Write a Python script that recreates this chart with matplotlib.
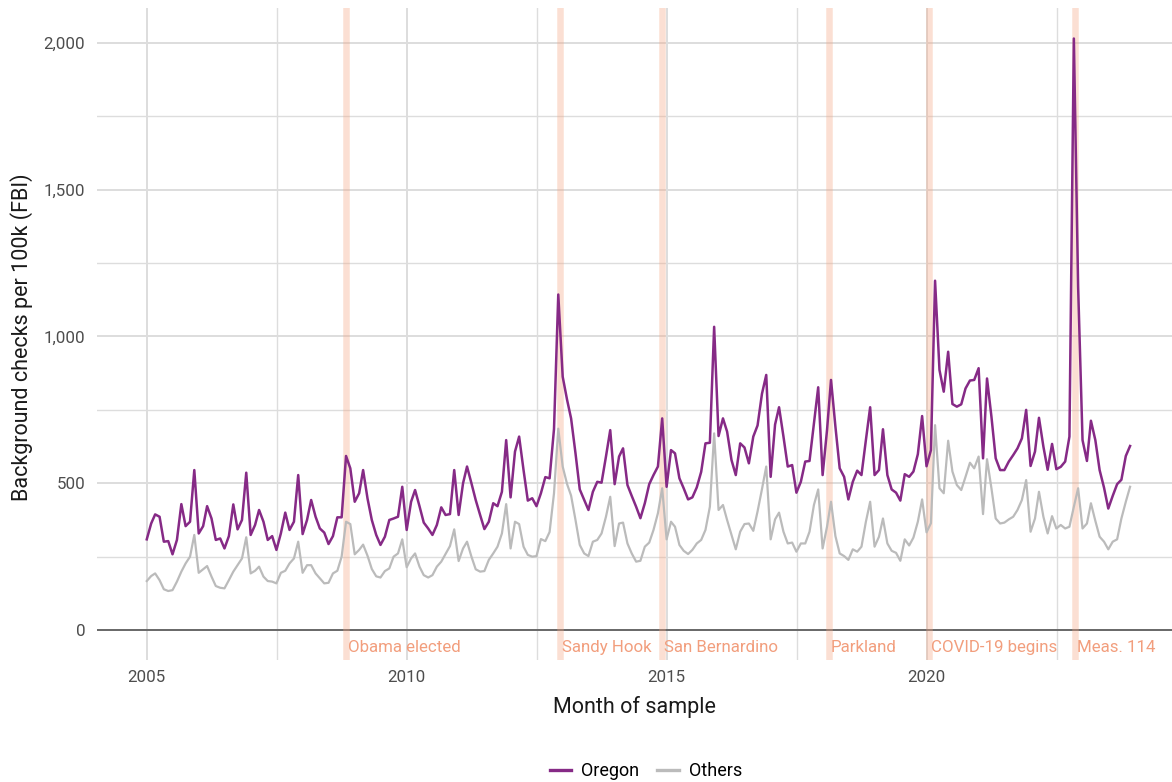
import numpy as np
import pandas as pd
import matplotlib
matplotlib.use("Agg")
import matplotlib.pyplot as plt

plt.rcParams['font.family'] = ['Roboto', 'DejaVu Sans']

# ---------------- data ----------------
months = pd.date_range('2005-01-01', periods=228, freq='MS')

oregon = [
    309, 363, 394, 386, 301, 303, 258, 307, 429, 354, 369, 545,
    329, 354, 422, 380, 307, 312, 278, 320, 428, 343, 375, 536,
    324, 358, 409, 369, 307, 320, 273, 329, 400, 341, 369, 528,
    327, 375, 443, 386, 346, 332, 293, 320, 384, 384, 593, 551,
    437, 466, 545, 448, 375, 324, 290, 318, 375, 380, 386, 488,
    341, 437, 477, 422, 366, 346, 324, 358, 418, 392, 395, 545,
    392, 500, 557, 500, 443, 392, 344, 369, 432, 422, 471, 647,
    452, 608, 659, 545, 441, 449, 422, 466, 521, 517, 685, 1143,
    863, 784, 721, 602, 479, 443, 409, 471, 505, 502, 591, 681,
    497, 591, 619, 494, 457, 420, 381, 432, 497, 528, 557, 721,
    488, 613, 602, 517, 483, 445, 452, 486, 539, 636, 638, 1033,
    661, 721, 676, 579, 528, 636, 622, 568, 659, 697, 805, 869,
    522, 700, 759, 659, 557, 562, 468, 505, 574, 576, 704, 827,
    528, 681, 852, 693, 551, 522, 445, 505, 543, 528, 647, 759,
    528, 545, 684, 528, 479, 468, 441, 531, 522, 540, 599, 729,
    558, 613, 1190, 886, 812, 948, 770, 761, 769, 823, 850, 852,
    892, 585, 857, 727, 585, 545, 545, 574, 596, 619, 653, 750,
    559, 608, 723, 625, 546, 634, 548, 556, 574, 659, 2015, 1170,
    647, 576, 713, 647, 545, 485, 414, 457, 497, 512, 593, 627,
]

others = [
    167, 184, 193, 170, 139, 133, 136, 165, 199, 227, 250, 324,
    195, 207, 218, 182, 150, 144, 142, 170, 199, 221, 244, 316,
    193, 202, 216, 182, 167, 165, 159, 195, 202, 227, 244, 301,
    195, 221, 221, 193, 176, 159, 161, 193, 202, 250, 369, 361,
    258, 273, 291, 253, 208, 183, 179, 201, 210, 250, 261, 309,
    214, 244, 261, 216, 187, 179, 187, 216, 233, 259, 286, 343,
    235, 278, 301, 250, 207, 199, 201, 239, 261, 284, 329, 429,
    278, 369, 361, 284, 256, 250, 252, 310, 303, 334, 466, 686,
    557, 497, 458, 375, 290, 261, 252, 301, 307, 329, 386, 454,
    286, 363, 366, 295, 261, 233, 236, 284, 298, 341, 398, 483,
    309, 369, 352, 290, 270, 259, 273, 295, 307, 341, 420, 670,
    409, 426, 375, 324, 275, 335, 361, 363, 338, 404, 480, 557,
    309, 377, 400, 335, 295, 298, 267, 295, 295, 335, 426, 479,
    278, 352, 437, 320, 261, 252, 239, 275, 267, 284, 369, 437,
    284, 318, 380, 295, 270, 263, 236, 309, 288, 315, 369, 445,
    333, 364, 698, 483, 466, 645, 540, 494, 477, 522, 570, 551,
    591, 395, 582, 483, 380, 363, 366, 377, 386, 409, 443, 511,
    335, 380, 471, 386, 329, 388, 346, 358, 346, 352, 420, 483,
    346, 363, 432, 372, 318, 301, 275, 301, 309, 380, 437, 488,
]

event_dates = ['2008-11-04', '2012-12-14', '2014-12-02',
               '2018-02-14', '2020-01-20', '2022-11-08']
event_labels = ['Obama elected', 'Sandy Hook', 'San Bernardino',
                'Parkland', 'COVID-19 begins', 'Meas. 114']

x_major = [2005, 2010, 2015, 2020]
x_minor = [2007.5, 2012.5, 2017.5, 2022.5]
y_major = [0, 500, 1000, 1500, 2000]
y_minor = [250, 750, 1250, 1750]
y_labels = ['0', '500', '1,000', '1,500', '2,000']

series_names = ['Oregon', 'Others']
series_colors = ['#862A86', '#BBBBBB']

# ---------------- figure ----------------
W, H = 1172, 782
fig = plt.figure(figsize=(W / 100, H / 100), dpi=100)
ax = fig.add_axes([97 / W, 1 - 660 / H, (W - 97) / W, (660 - 8) / H])


def year_to_date(y):
    yr = int(np.floor(y))
    frac = y - yr
    start = pd.Timestamp(f'{yr}-01-01')
    end = pd.Timestamp(f'{yr + 1}-01-01')
    return start + (end - start) * frac


ax.set_xlim(year_to_date(2004.045), year_to_date(2024.72))
ax.set_ylim(-102, 2119)

grid_c = '#DDDDDD'
for v in y_major:
    ax.axhline(v, color=grid_c, lw=1.4, zorder=0)
for v in y_minor:
    ax.axhline(v, color=grid_c, lw=1.0, zorder=0)
for v in x_major:
    ax.axvline(year_to_date(v), color=grid_c, lw=1.4, zorder=0)
for v in x_minor:
    ax.axvline(year_to_date(v), color=grid_c, lw=1.0, zorder=0)

ax.axhline(0, color='#555555', lw=1.2, zorder=1)

band_c = '#F4A582'
for d, lab in zip(event_dates, event_labels):
    dt = pd.Timestamp(d)
    ax.axvline(dt, color=band_c, lw=4.7, alpha=0.35, zorder=2)
    ax.text(dt + pd.Timedelta(days=12), -61, lab, color='#F29E7D',
            fontsize=12.2, ha='left', va='center', zorder=5)

ax.plot(months, oregon, color=series_colors[0], lw=1.8, zorder=4,
        label=series_names[0])
ax.plot(months, others, color=series_colors[1], lw=1.6, zorder=3,
        label=series_names[1])

ax.set_xticks([pd.Timestamp(f'{y}-01-01') for y in x_major])
ax.set_xticklabels([str(y) for y in x_major])
ax.set_yticks(y_major)
ax.set_yticklabels(y_labels)
ax.tick_params(axis='both', length=0, labelsize=12.2, labelcolor='#4D4D4D')
ax.tick_params(axis='x', pad=7)
ax.tick_params(axis='y', pad=8.5)
for s in ax.spines.values():
    s.set_visible(False)

fig.text(634.5 / W, 1 - 707 / H, 'Month of sample', ha='center', va='center',
         fontsize=15.5, color='#1A1A1A')
fig.text(22 / W, 1 - 337 / H, 'Background checks per 100k (FBI)',
         ha='center', va='center', rotation=90, fontsize=15.5, color='#1A1A1A')

leg = fig.legend(loc='center', bbox_to_anchor=(646 / W, 1 - 771 / H), ncol=2,
                 frameon=False, fontsize=13, handlelength=1.2,
                 handletextpad=0.55, columnspacing=1.0)
for line in leg.get_lines():
    line.set_linewidth(2.4)

fig.savefig('out.png', dpi=100)
